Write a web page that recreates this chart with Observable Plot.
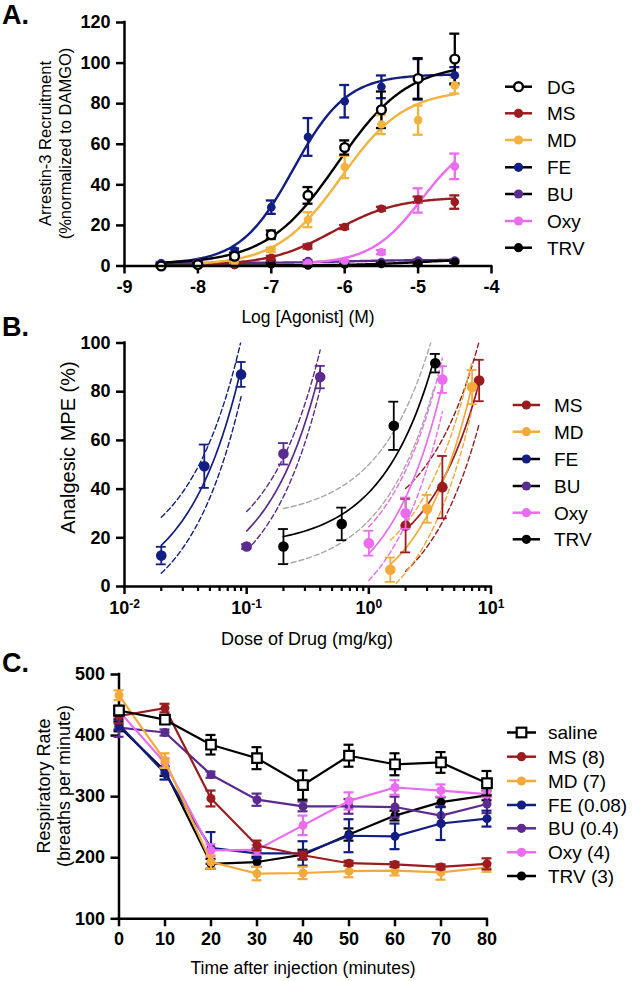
<!DOCTYPE html>
<html><head><meta charset="utf-8">
<script src="https://cdn.jsdelivr.net/npm/d3@7"></script>
<script src="https://cdn.jsdelivr.net/npm/@observablehq/plot@0.6"></script>
<style>
body{margin:0;background:#fff;}
#fig{position:relative;width:632px;height:981px;background:#fff;}
#fig > svg{position:absolute;left:0;}
</style></head><body><div id="fig"></div>
<script>
const FONT = '"Liberation Sans", Arial, Helvetica, sans-serif';

// ---------------- Panel A: arrestin-3 recruitment ----------------
const aDrugs = ["DG","MS","MD","FE","BU","Oxy","TRV"];
const aColors = ["#000000","#9b1b1f","#f3b33f","#121e84","#5c2b8f","#eb6cf0","#000000"];
const aLegendLine = ["#000000","#9b1b1f","#f3b33f","#000000","#000000","#eb6cf0","#000000"];
const aLogDose = [-8.5,-8,-7.5,-7,-6.5,-6,-5.5,-5,-4.5];
const aDG  = [0,0.7,4.8,15.4,34.8,58.4,77,92.4,102];
const aDGe = [0.5,0.8,1.5,2.1,4.1,3.5,9,10,12.5];
const aMS  = [null,0.5,0.5,4,9.6,19.2,28.2,32.7,31.5];
const aMSe = [null,0.3,0.3,1,1,1,1,1.5,3.3];
const aMD  = [null,0.5,2,8,22.8,48.8,69.7,71.9,89];
const aMDe = [null,0.3,0.5,1,3.7,5.5,4.7,7.2,4];
const aFE  = [1,1.5,7.6,29,63.6,81.2,88.3,92,94];
const aFEe = [0.5,0.5,1,3.3,9.3,8,5.6,10,4];
const aBU  = [1.5,1.9,1.5,1.9,2.4,1.9,1.9,2.7,2.7];
const aBUe = [0.5,0.5,0.5,0.5,0.5,0.5,0.5,0.5,0.5];
const aOxy = [null,null,null,null,1.5,2.5,6.8,32.3,49.1];
const aOxye= [null,null,null,null,0.5,0.5,1,6,6.3];
const aTRV = [0.5,0.8,0.5,0.9,0.3,0.8,1,1.3,2];
const aTRVe= [0.5,0.5,0.5,0.5,0.5,0.5,0.5,0.5,0.5];
// four-parameter logistic fits
const aBottom  = [1,0.3,0.3,1,1.5,1,0.3];
const aTop     = [100,34,87,94.5,3,65,3.5];
const aLogEC50 = [-6.1,-6.15,-6.05,-6.7,-6,-4.95,-5];
const aHill    = [0.9,1,1,1.2,1,1.25,1];
const aFitFrom = [-8.5,-8,-8,-8.5,-8.5,-6.5,-8.5];
const aFitTo   = [-4.5,-4.5,-4.5,-4.5,-4.5,-4.5,-4.5];
const aXTicks = [-9,-8,-7,-6,-5,-4];
const aYTicks = [0,20,40,60,80,100,120];

// ---------------- Panel B: analgesia ----------------
const bDrugs = ["MS","MD","FE","BU","Oxy","TRV"];
const bColors = ["#9b1b1f","#f4a93a","#121e84","#5c2b8f","#eb6cf0","#000000"];
const bCiColors = ["#9b1b1f","#f4a93a","#121e84","#5c2b8f","#eb6cf0","#a8a8a8"];
const bLegendLine = ["#9b1b1f","#f4a93a","#000000","#000000","#eb6cf0","#000000"];
const bDose = [[2,4,8],[1.5,3,7],[0.02,0.045,0.09],[0.1,0.2,0.4],[1,2,4],[0.2,0.6,1.6,3.5]];
const bMPE  = [[25,40.8,84.6],[6.9,31.9,81.9],[12.7,49.4,87.1],[16.4,54.5,86],[17.8,30.1,85],[16.4,25.7,66,91.7]];
const bErr  = [[11,12.8,8.5],[5,5.7,7],[3.6,8.9,5.1],[1,4.4,4.6],[5.1,6.4,5.5],[7.2,6.7,9.9,3.8]];
// linear fits (MPE = intercept + slope * dose) and 95% band half-widths
const bFitFrom  = [2,1.5,0.02,0.1,1,0.2];
const bFitTo    = [8,7,0.09,0.4,4,3.4];
const bIntercept= [3.1,-11.1,-3.8,0.66,-9.6,16];
const bSlope    = [10.08,13.4,1036,221.3,23.1,22.6];
const bBand     = [17,10,11.5,8,11,11.5];
const bMajorTicks = [0.01,0.1,1,10];
const bYTicks = [0,20,40,60,80,100];

// ---------------- Panel C: respiration ----------------
const cSeries = ["saline","MS (8)","MD (7)","FE (0.08)","BU (0.4)","Oxy (4)","TRV (3)"];
const cColors = ["#000000","#9b1b1f","#f4a93a","#121e84","#5c2b8f","#eb6cf0","#000000"];
const cTimes = [0,10,20,30,40,50,60,70,80];
const cSaline = [441,426,385,363,319,367,353,356,322];
const cMS     = [432,445,297,220,204,191,189,185,190];
const cMD     = [466,359,193,174,175,178,179,176,184];
const cFE     = [418,338,216,207,207,236,235,256,264];
const cBU     = [413,405,336,295,284,284,283,269,288];
const cOxy    = [440,355,212,213,253,293,315,310,304];
const cTRV    = [415,342,190,193,205,238,269,291,302];
const cSalineE= [8,6,16,18,24,18,18,17,20];
const cMSE    = [12,7,13,8,6,4,4,4,9];
const cMDE    = [8,12,11,11,10,10,8,12,7];
const cFEE    = [8,10,26,8,20,27,21,27,13];
const cBUE    = [15,5,5,10,8,12,17,15,15];
const cOxyE   = [8,8,10,8,16,14,12,10,5];
const cTRVE   = [8,8,8,8,8,10,8,8,8];
const cXTicks = [0,10,20,30,40,50,60,70,80];
const cYTicks = [100,200,300,400,500];

// ---------------- helpers ----------------
const fig = document.getElementById("fig");
const plotStyle = {fontFamily: FONT, color: "black", background: "transparent", overflow: "visible"};
const axOpts = (o) => Object.assign({tickSize: 8, tickPadding: 6, fontSize: 18, fontWeight: "bold", strokeWidth: 2.5, label: null}, o);
const rows = (xs, ys, es) => xs.map((x, i) => ({x, y: ys[i], lo: ys[i] == null ? null : ys[i] - es[i], hi: ys[i] == null ? null : ys[i] + es[i]})).filter(d => d.y != null);
const errMarks = (data, color, sw, cap) => [
  Plot.ruleX(data, {x: "x", y1: "lo", y2: "hi", stroke: color, strokeWidth: sw}),
  Plot.ruleY(data, {y: "hi", x1: "x", x2: "x", insetLeft: -cap, insetRight: -cap, stroke: color, strokeWidth: sw}),
  Plot.ruleY(data, {y: "lo", x1: "x", x2: "x", insetLeft: -cap, insetRight: -cap, stroke: color, strokeWidth: sw})
];
function place(svg, top) { svg.style.position = "absolute"; svg.style.top = top + "px"; svg.style.left = "0px"; fig.appendChild(svg); d3.select(svg).selectAll("g[aria-label$='tick label']").attr("font-weight", "bold"); return svg; }

// ---------------- Plot A ----------------
const aVals = [aDG, aMS, aMD, aFE, aBU, aOxy, aTRV];
const aErrs = [aDGe, aMSe, aMDe, aFEe, aBUe, aOxye, aTRVe];
const sig = (x, i) => aBottom[i] + (aTop[i] - aBottom[i]) / (1 + Math.pow(10, (aLogEC50[i] - x) * aHill[i]));
const aCurveOrder = [4, 6, 5, 1, 2, 3, 0];
const aMarks = [];
for (const i of aCurveOrder) {
  const pts = d3.range(aFitFrom[i], aFitTo[i] + 1e-9, 0.025).map(x => ({x, y: sig(x, i)}));
  aMarks.push(Plot.line(pts, {x: "x", y: "y", stroke: aColors[i], strokeWidth: 2.4}));
}
for (const i of aCurveOrder) aMarks.push(...errMarks(rows(aLogDose, aVals[i], aErrs[i]), aColors[i], 2.3, 5));
for (const i of aCurveOrder) {
  const d = rows(aLogDose, aVals[i], aErrs[i]);
  if (i === 0) aMarks.push(Plot.dot(d, {x: "x", y: "y", r: 4.4, fill: "white", stroke: "black", strokeWidth: 2.4}));
  else aMarks.push(Plot.dot(d, {x: "x", y: "y", r: 4.3, fill: aColors[i]}));
}
const plotA = Plot.plot({
  width: 632, height: 300, marginLeft: 124, marginRight: 141, marginTop: 22, marginBottom: 34.5,
  x: {type: "linear", domain: [-9, -4]}, y: {domain: [0, 120]},
  style: plotStyle,
  marks: [
    Plot.axisX({...axOpts({ticks: aXTicks, tickFormat: d => String(d)})}),
    Plot.axisY({...axOpts({ticks: aYTicks, tickFormat: d => String(d)})}),
    ...aMarks,
    Plot.ruleX([-9], {stroke: "black", strokeWidth: 2.5, strokeLinecap: "square"}),
    Plot.ruleY([0], {stroke: "black", strokeWidth: 2.5, strokeLinecap: "square"})
  ]
});
place(plotA, 0);

// ---------------- Plot B ----------------
const bMinorTicks = [];
for (const dec of [0.01, 0.1, 1]) for (let k = 2; k <= 9; k++) bMinorTicks.push(+(dec * k).toPrecision(3));
const bMarks = [];
bDrugs.forEach((_, i) => {
  const xs = d3.range(0, 61).map(k => Math.pow(10, Math.log10(bFitFrom[i]) + k / 60 * (Math.log10(bFitTo[i]) - Math.log10(bFitFrom[i]))));
  const fit = xs.map(x => ({x, y: bIntercept[i] + bSlope[i] * x}));
  const up = fit.map(p => ({x: p.x, y: p.y + bBand[i]}));
  const lo = fit.map(p => ({x: p.x, y: p.y - bBand[i]}));
  bMarks.push(Plot.line(up, {x: "x", y: "y", stroke: bCiColors[i], strokeWidth: 1.4, strokeDasharray: "5,3", clip: true}));
  bMarks.push(Plot.line(lo, {x: "x", y: "y", stroke: bCiColors[i], strokeWidth: 1.4, strokeDasharray: "5,3", clip: true}));
  bMarks.push(Plot.line(fit, {x: "x", y: "y", stroke: bColors[i], strokeWidth: 1.7, clip: true}));
});
bDrugs.forEach((_, i) => {
  const d = rows(bDose[i], bMPE[i], bErr[i]);
  bMarks.push(...errMarks(d, bColors[i], 1.8, 5));
  bMarks.push(Plot.dot(d, {x: "x", y: "y", r: 5.3, fill: bColors[i]}));
});
const plotB = Plot.plot({
  width: 632, height: 300, marginLeft: 124, marginRight: 141.5, marginTop: 22.5, marginBottom: 34,
  x: {type: "log", domain: [0.01, 10]}, y: {domain: [0, 100]},
  style: plotStyle,
  marks: [
    Plot.axisX({...axOpts({ticks: bMinorTicks, tickSize: 5, strokeWidth: 2.2, tickFormat: () => ""})}),
    Plot.axisX({...axOpts({ticks: bMajorTicks, tickPadding: 7, tickFormat: d => "10^" + Math.round(Math.log10(d))})}),
    Plot.axisY({...axOpts({ticks: bYTicks, tickFormat: d => String(d)})}),
    ...bMarks,
    Plot.ruleX([0.01], {stroke: "black", strokeWidth: 2.5, strokeLinecap: "square"}),
    Plot.ruleY([0], {stroke: "black", strokeWidth: 2.5, strokeLinecap: "square"})
  ]
});
place(plotB, 320);
d3.select(plotB).selectAll("text").each(function() {
  const m = /^10\^(-?\d+)$/.exec(this.textContent);
  if (m) { const s = d3.select(this); s.text("10"); s.append("tspan").attr("dy", "-0.55em").attr("font-size", "12px").text(m[1]); }
});

// ---------------- Plot C ----------------
const cVals = [cSaline, cMS, cMD, cFE, cBU, cOxy, cTRV];
const cErrs = [cSalineE, cMSE, cMDE, cFEE, cBUE, cOxyE, cTRVE];
const cOrder = [6, 4, 3, 5, 2, 1, 0];
const cMarks = [];
for (const i of cOrder) {
  const d = rows(cTimes, cVals[i], cErrs[i]);
  cMarks.push(Plot.line(d, {x: "x", y: "y", stroke: cColors[i], strokeWidth: 2.2}));
  cMarks.push(...errMarks(d, cColors[i], 2.2, 5));
  if (i === 0) cMarks.push(Plot.dot(d, {x: "x", y: "y", symbol: "square", r: 5.4, fill: "white", stroke: "black", strokeWidth: 2.2}));
  else cMarks.push(Plot.dot(d, {x: "x", y: "y", r: 4.5, fill: cColors[i]}));
}
const plotC = Plot.plot({
  width: 632, height: 300, marginLeft: 118.5, marginRight: 145.5, marginTop: 22, marginBottom: 33.7,
  x: {type: "linear", domain: [0, 80]}, y: {domain: [100, 500]},
  style: plotStyle,
  marks: [
    Plot.axisX({...axOpts({ticks: cXTicks, tickPadding: 5, tickFormat: d => String(d)})}),
    Plot.axisY({...axOpts({ticks: cYTicks, tickFormat: d => String(d)})}),
    Plot.ruleX([0], {stroke: "black", strokeWidth: 2.5, strokeLinecap: "square"}),
    Plot.ruleY([100], {stroke: "black", strokeWidth: 2.5, strokeLinecap: "square"}),
    ...cMarks
  ]
});
place(plotC, 652);

// ---------------- overlay: panel letters, axis titles, legends ----------------
const ov = d3.create("svg").attr("width", 632).attr("height", 981).attr("font-family", FONT)
  .style("position", "absolute").style("left", "0px").style("top", "0px");
const letters = [["A.", 24], ["B.", 336], ["C.", 672]];
letters.forEach(([t, y]) => ov.append("text").attr("x", 2).attr("y", y).attr("font-size", 27).attr("font-weight", "bold").text(t));

function hText(t, x, y, size) { ov.append("text").attr("x", x).attr("y", y).attr("text-anchor", "middle").attr("font-size", size).text(t); }
function vText(t, x, y, size) { ov.append("text").attr("transform", `translate(${x},${y}) rotate(-90)`).attr("text-anchor", "middle").attr("font-size", size).text(t); }
hText("Log [Agonist] (M)", 308, 323, 17.5);
vText("Arrestin-3 Recruitment", 51, 143.5, 16.5);
vText("(%normalized to DAMGO)", 71, 143.5, 16.5);
hText("Dose of Drug (mg/kg)", 307, 645, 18);
vText("Analgesic MPE (%)", 75, 447.5, 20);
hText("Time after injection (minutes)", 303, 974, 17.5);
vText("Respiratory Rate", 50, 786, 18);
vText("(breaths per minute)", 70, 786, 18);

function legend(labels, colors, lineColors, ys, x1, x2, xt, special) {
  labels.forEach((lab, i) => {
    const y = ys[i], xm = (x1 + x2) / 2;
    ov.append("line").attr("x1", x1).attr("x2", x2).attr("y1", y).attr("y2", y).attr("stroke", lineColors[i]).attr("stroke-width", 2.5);
    const s = special(i);
    if (s === "open") ov.append("circle").attr("cx", xm).attr("cy", y).attr("r", 4.4).attr("fill", "white").attr("stroke", "black").attr("stroke-width", 2.4);
    else if (s === "square") ov.append("rect").attr("x", xm - 4.8).attr("y", y - 4.8).attr("width", 9.6).attr("height", 9.6).attr("fill", "white").attr("stroke", "black").attr("stroke-width", 2.2);
    else ov.append("circle").attr("cx", xm).attr("cy", y).attr("r", 4.6).attr("fill", colors[i]);
    ov.append("text").attr("x", xt).attr("y", y).attr("dy", "0.36em").attr("font-size", 19).text(lab);
  });
}
legend(aDrugs, aColors, aLegendLine, [86.7,113.3,140,167.3,194,221,247.7], 505, 532, 547, i => i === 0 ? "open" : "dot");
legend(bDrugs, bColors, bLegendLine, [405,431.7,459,486,512.7,539.3], 512.7, 540, 554, () => "dot");
legend(cSeries, cColors, cColors, [732.5,756.7,781,805,828.3,852.3,876], 507, 536, 548, i => i === 0 ? "square" : "dot");
fig.appendChild(ov.node());
</script></body></html>
